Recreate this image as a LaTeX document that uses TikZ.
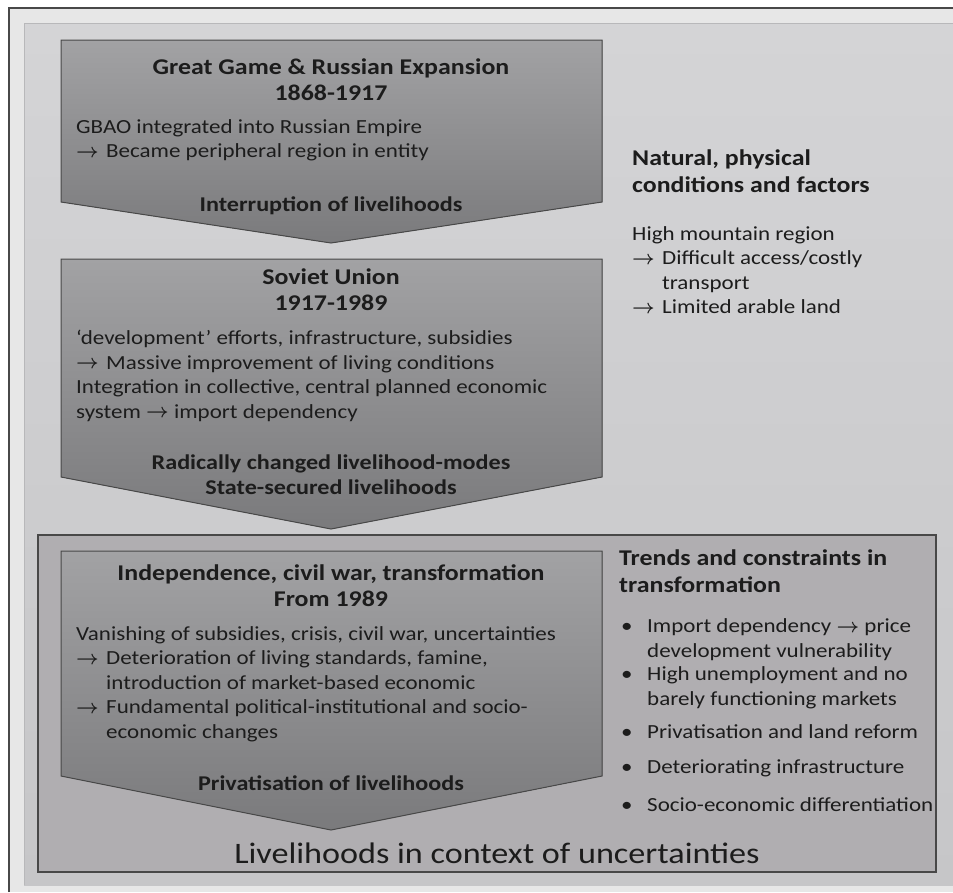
\documentclass[tikz,border=0pt]{standalone}
\usepackage{fontspec}
\usepackage{amsmath}
\setmainfont{Carlito}[FakeStretch=1.15]
\definecolor{frame-gray}{RGB}{231,231,231}
\definecolor{panel-top}{RGB}{212,212,214}
\definecolor{panel-bottom}{RGB}{198,198,200}
\definecolor{panel-edge}{RGB}{184,184,186}
\definecolor{arrow-top}{RGB}{162,162,164}
\definecolor{arrow-bottom}{RGB}{122,122,124}
\definecolor{box-gray}{RGB}{176,174,177}
\definecolor{edge-gray}{RGB}{72,72,72}
\definecolor{ink-gray}{RGB}{28,28,28}
\newcommand{\arrowsym}{\raisebox{0.5pt}{\scalebox{0.95}[0.95]{$\boldsymbol{\rightarrow}$}}}
\newcommand{\goesto}{\makebox[30pt][l]{\arrowsym}}
\newcommand{\bulletbox}{\makebox[26pt][l]{\textbullet}}
\tikzset{
   phase/.style={draw=edge-gray,line width=1pt,top color=arrow-top,bottom color=arrow-bottom},
   titletext/.style={font=\fontsize{22.5}{26}\selectfont\bfseries,align=center,text=ink-gray,inner sep=0pt},
   headtext/.style={font=\fontsize{21}{25}\selectfont\bfseries,align=center,text=ink-gray,inner sep=0pt},
   sidehead/.style={font=\fontsize{22.5}{27}\selectfont\bfseries,align=left,anchor=west,text=ink-gray,inner sep=0pt},
   bodytext/.style={font=\fontsize{20}{24.5}\selectfont,align=left,anchor=west,text=ink-gray,inner sep=0pt}
}

\begin{document}
\begin{tikzpicture}[x=1pt,y=-1pt]
   \path[use as bounding box,fill=white] (0,0) rectangle (953,892);
   \fill[frame-gray] (9,8) rectangle (953,892);
   \draw[edge-gray,line width=1.5pt] (9,892) -- (9,8) -- (953,8);
   \shade[top color=panel-top,bottom color=panel-bottom] (24,23) rectangle (953,885);
   \draw[panel-edge,line width=1pt] (24,885) -- (24,23) -- (953,23);
   \filldraw[fill=box-gray,draw=edge-gray,line width=1.2pt] (38,535) rectangle (936,872);
   \filldraw[phase] (61,40) -- (602,40) -- (602,202) -- (331,243) -- (61,202) -- cycle;
   \filldraw[phase] (61,259) -- (602,259) -- (602,477) -- (331,529) -- (61,477) -- cycle;
   \filldraw[phase] (61,551) -- (602,551) -- (602,776) -- (331,830) -- (61,776) -- cycle;

   \node[titletext] (great-game) at (331,79.5) {Great Game \& Russian Expansion\\1868-1917};
   \node[bodytext] (great-game-text) at (76,140.5) {GBAO integrated into Russian Empire\\\goesto Became peripheral region in entity};
   \node[headtext] (interruption) at (331,206) {Interruption of livelihoods};

   \node[titletext] (soviet-union) at (331,290) {Soviet Union\\1917-1989};
   \node[bodytext] (soviet-text) at (76,376) {‘development’ efforts, infrastructure, subsidies\\\goesto Massive improvement of living conditions\\Integration in collective, central planned economic\\system \arrowsym{} import dependency};
   \node[headtext] (state-secured) at (331,474.5) {Radically changed livelihood-modes\\State-secured livelihoods};

   \node[titletext] (independence) at (331,586) {Independence, civil war, transformation\\From 1989};
   \node[bodytext] (independence-text) at (76,684) {Vanishing of subsidies, crisis, civil war, uncertainties\\\goesto Deterioration of living standards, famine,\\\hspace*{30pt}introduction of market-based economic\\\goesto Fundamental political-institutional and socio-\\\hspace*{30pt}economic changes};
   \node[headtext] (privatisation) at (331,783) {Privatisation of livelihoods};

   \node[sidehead] (natural-head) at (632,171) {Natural, physical\\conditions and factors};
   \node[bodytext] (natural-text) at (632,270) {High mountain region\\\goesto Difficult access/costly\\\hspace*{30pt}transport\\\goesto Limited arable land};

   \node[sidehead] (trends-head) at (619,571.5) {Trends and constraints in\\transformation};
   \node[bodytext] (import-item) at (621,639.5) {\bulletbox Import dependency \arrowsym{} price\\\hspace*{26pt}development vulnerability};
   \node[bodytext] (unemployment-item) at (621,688) {\bulletbox High unemployment and no\\\hspace*{26pt}barely functioning markets};
   \node[bodytext] (land-item) at (621,732) {\bulletbox Privatisation and land reform};
   \node[bodytext] (infrastructure-item) at (621,768) {\bulletbox Deteriorating infrastructure};
   \node[bodytext] (differentiation-item) at (621,805) {\bulletbox Socio-economic differentiation};

   \node[font=\fontsize{29.7}{34}\selectfont,text=ink-gray,inner sep=0pt] (uncertainties) at (497,853) {Livelihoods in context of uncertainties};
\end{tikzpicture}
\end{document}
